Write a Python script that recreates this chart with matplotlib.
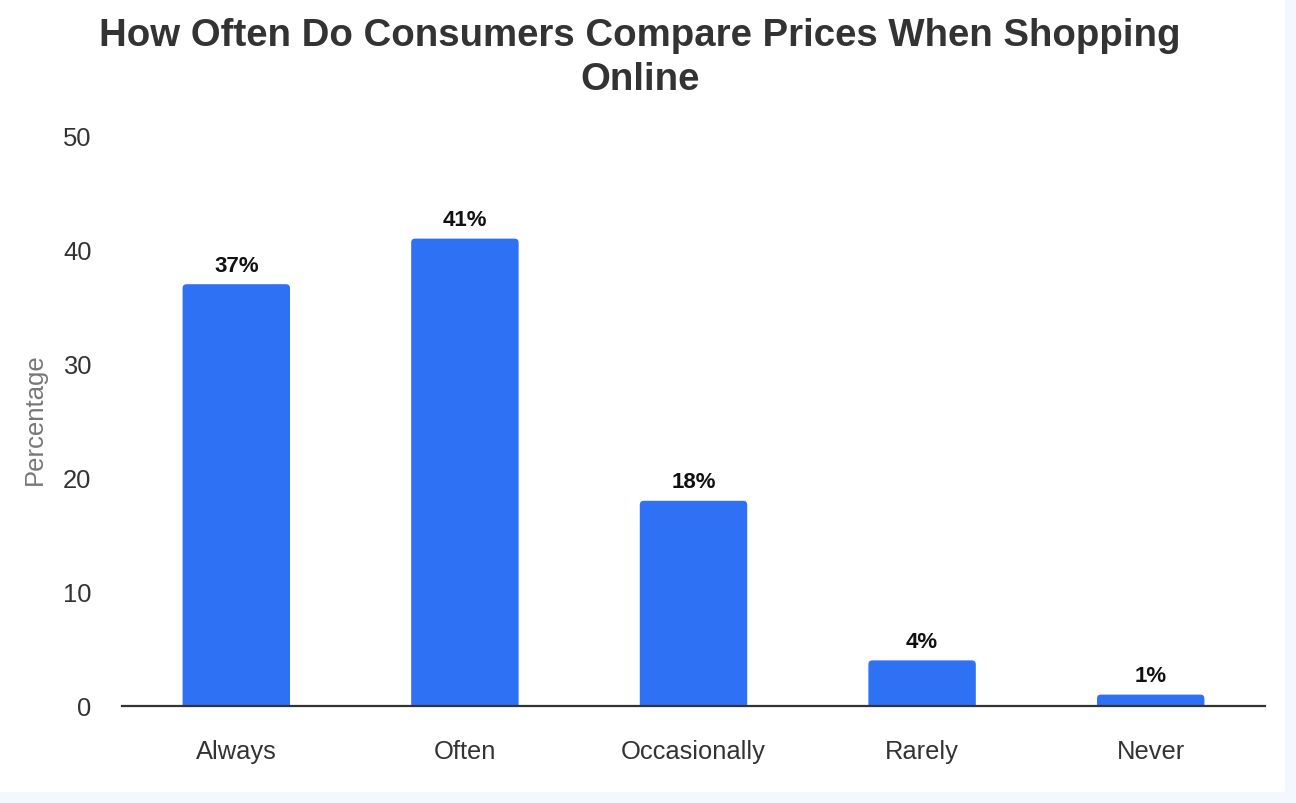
import matplotlib
matplotlib.use("Agg")
import matplotlib.pyplot as plt
from matplotlib.patches import FancyBboxPatch, Rectangle

categories = ["Always", "Often", "Occasionally", "Rarely", "Never"]
values = [37, 41, 18, 4, 1]
value_labels = ["37%", "41%", "18%", "4%", "1%"]
yticks = [0, 10, 20, 30, 40, 50]

plt.rcParams['font.family'] = ['Liberation Sans', 'DejaVu Sans']

W, H = 1296, 804
fig = plt.figure(figsize=(W / 100, H / 100), dpi=100)
fig.patch.set_facecolor('#F2F8FE')
bg = Rectangle((0, 1 - 793 / H), 1285 / W, 793 / H,
               transform=fig.transFigure, facecolor='white',
               edgecolor='none', zorder=-10)
fig.patches.append(bg)

ax = fig.add_axes([122 / W, 1 - 707 / H, (1265 - 122) / W, (707 - 137) / H])
ax.set_zorder(5)
ax.set_facecolor('none')
ax.set_xlim(-0.5, len(categories) - 0.5)
ax.set_ylim(0, 50)

bar_color = '#2F71F5'
bars = ax.bar(range(len(categories)), values, width=0.47, color=bar_color)
# replace with rounded-top bars
px_x = (1265 - 122) / 5.0
px_y = (707 - 137) / 50.0
r_px = 4.0
rx = r_px / px_x
ry = r_px / px_y
for b in bars:
    x0 = b.get_x()
    w = b.get_width()
    h = b.get_height()
    b.set_visible(False)
    p = FancyBboxPatch((x0, -2), w, h + 2,
                       boxstyle=f"round,pad=0,rounding_size={rx}",
                       mutation_aspect=ry / rx,
                       facecolor=bar_color, edgecolor='none', zorder=2)
    ax.add_patch(p)

for i, (v, lab) in enumerate(zip(values, value_labels)):
    ax.annotate(lab, (i, v), xytext=(0, 6), textcoords='offset points',
                ha='center', va='bottom', fontsize=16, fontweight='bold',
                color='#111111')

for s in ['top', 'right', 'left']:
    ax.spines[s].set_visible(False)
ax.spines['bottom'].set_color('#333333')
ax.spines['bottom'].set_linewidth(1.6)
ax.spines['bottom'].set_zorder(3)

ax.set_yticks(yticks)
ax.set_xticks(range(len(categories)))
ax.set_xticklabels(categories)
ax.tick_params(axis='both', length=0, labelsize=18.4, labelcolor='#333333')
ax.tick_params(axis='x', pad=24)
ax.tick_params(axis='y', pad=22)

ax.set_ylabel("Percentage", fontsize=18.5, color='#777777')
ax.yaxis.set_label_coords(-0.066, 0.505)

fig.text(640 / W, 1 - 58 / H,
         "How Often Do Consumers Compare Prices When Shopping\nOnline",
         ha='center', va='center', fontsize=27.6, fontweight='bold',
         color='#333333', linespacing=1.3)

fig.savefig("out.png", dpi=100, facecolor=fig.get_facecolor())
